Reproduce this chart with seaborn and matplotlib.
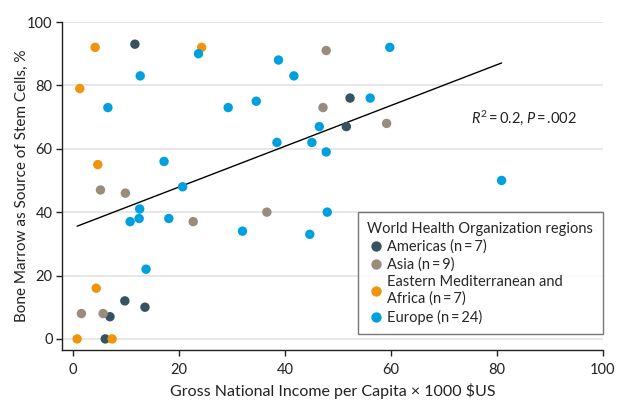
import numpy as np
import pandas as pd
import matplotlib
matplotlib.use('Agg')
import matplotlib.pyplot as plt
import seaborn as sns

# ---------------------
# Dados
# ---------------------
americas_x = [11.7, 52.3, 51.6, 7.0, 9.8, 13.6, 6.1]
americas_y = [93, 76, 67, 7, 12, 10, 0]

asia_x = [47.8, 47.2, 59.2, 5.2, 9.9, 22.7, 36.6, 1.6, 5.7]
asia_y = [91, 73, 68, 47, 46, 37, 40, 8, 8]

emed_x = [4.2, 24.3, 1.3, 4.7, 4.4, 0.8, 7.4]
emed_y = [92, 92, 79, 55, 16, 0, 0]

europe_x = [23.7, 12.7, 6.6, 38.8, 41.7, 59.8, 29.3, 34.6, 56.1, 46.5,
            38.5, 45.1, 47.8, 17.2, 20.7, 12.6, 12.5, 10.8, 18.1, 32.0,
            13.8, 44.7, 48.0, 80.9]
europe_y = [90, 83, 73, 88, 83, 92, 73, 75, 76, 67,
            62, 62, 59, 56, 48, 41, 38, 37, 38, 34,
            22, 33, 40, 50]

regioes = ['Americas (n\u2009=\u20097)', 'Asia (n\u2009=\u20099)',
           'Eastern Mediterranean and\nAfrica (n\u2009=\u20097)', 'Europe (n\u2009=\u200924)']
cores = ['#36535f', '#998c7d', '#f0940a', '#00a0df']

df = pd.concat([
    pd.DataFrame({'gni': americas_x, 'bm': americas_y, 'regiao': regioes[0]}),
    pd.DataFrame({'gni': asia_x, 'bm': asia_y, 'regiao': regioes[1]}),
    pd.DataFrame({'gni': emed_x, 'bm': emed_y, 'regiao': regioes[2]}),
    pd.DataFrame({'gni': europe_x, 'bm': europe_y, 'regiao': regioes[3]}),
], ignore_index=True)

# ---------------------
# Estilo
# ---------------------
sns.set_style('white')
plt.rcParams['font.family'] = ['Lato', 'DejaVu Sans']
plt.rcParams['mathtext.fontset'] = 'custom'
plt.rcParams['mathtext.it'] = 'Lato:italic'
plt.rcParams['mathtext.rm'] = 'Lato'

fig = plt.figure(figsize=(6.17, 4.0), dpi=100)
ax = fig.add_axes([0.101, 0.125, 0.876, 0.82])

ax.yaxis.grid(True, color='#e3e3e3', linewidth=1.2)
ax.set_axisbelow(True)

# linha de regressão (todos os pontos)
sns.regplot(data=df, x='gni', y='bm', scatter=False, ci=None, truncate=True,
            color='black', line_kws={'linewidth': 1.0}, ax=ax)

sns.scatterplot(data=df, x='gni', y='bm', hue='regiao', hue_order=regioes,
                palette=cores, s=46, edgecolor='none', linewidth=0, ax=ax,
                zorder=3)

ax.text(75.2, 69.7, '$R^2$\u2009=\u20090.2, $P$\u2009=\u2009.002', fontsize=10.5,
        ha='left', va='center', color='#222222')

ax.set_xlim(-2, 100)
ax.set_ylim(-3.5, 100)
ax.set_xticks(range(0, 101, 20))
ax.set_yticks(range(0, 101, 20))
ax.tick_params(axis='both', direction='out', length=4.5, width=1, color='#222222',
               labelsize=10.5, labelcolor='#222222', left=True, bottom=True)
ax.tick_params(axis='x', pad=5)
ax.tick_params(axis='y', pad=2.5)
ax.set_xlabel('Gross National Income per Capita × 1000 $US', fontsize=11.5, color='#222222', labelpad=4.5)
ax.set_ylabel('Bone Marrow as Source of Stem Cells, %', fontsize=11, color='#222222', labelpad=-1)

for lado in ['top', 'right']:
    ax.spines[lado].set_visible(False)
for lado in ['left', 'bottom']:
    ax.spines[lado].set_color('#222222')
    ax.spines[lado].set_linewidth(1.0)

leg = ax.legend(title='World Health Organization regions', loc='lower right',
                bbox_to_anchor=(1.0, 0.048), borderaxespad=0, frameon=True,
                fancybox=False, edgecolor='#555555', fontsize=10.5,
                title_fontsize=10.5, labelspacing=0.25, handletextpad=0.15,
                handlelength=1.2, borderpad=0.65, markerscale=1.1)
leg._legend_box.align = 'left'
leg.get_frame().set_linewidth(1.0)

fig.savefig('out.png', dpi=100)
